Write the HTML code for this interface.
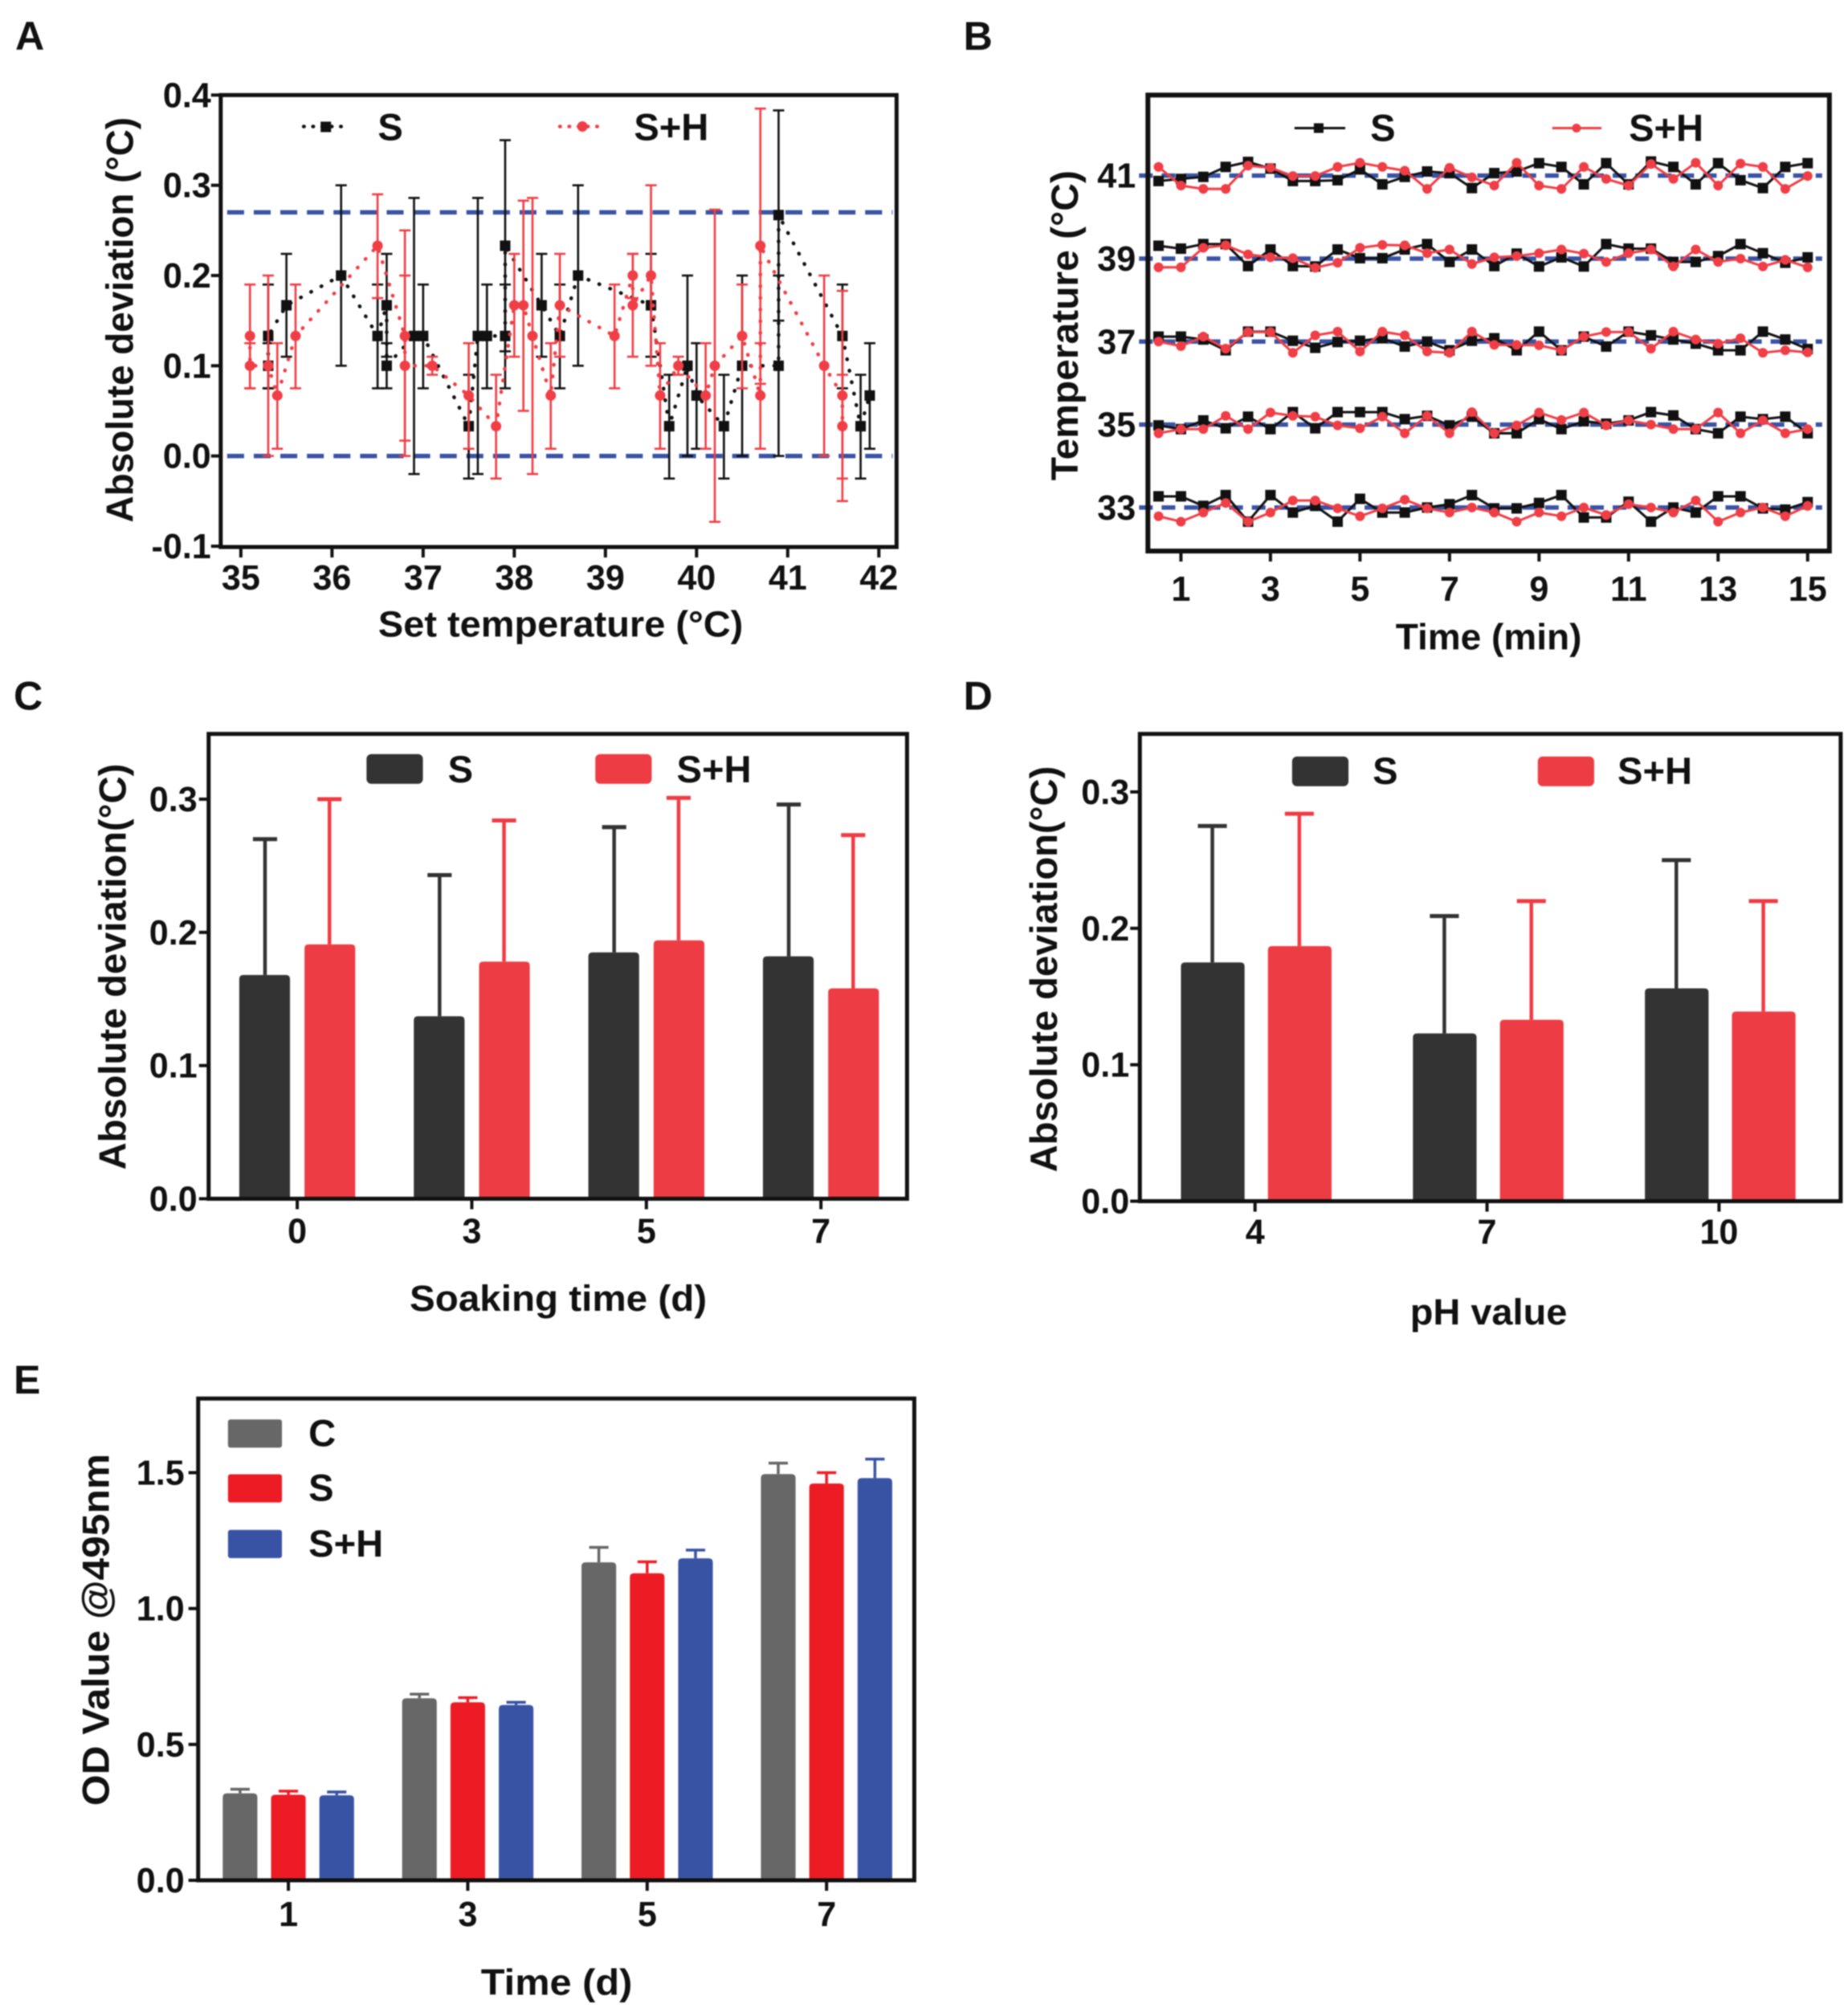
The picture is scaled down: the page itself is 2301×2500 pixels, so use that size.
<!DOCTYPE html>
<html lang="en"><head><meta charset="utf-8"><title>Absolute deviation and OD charts</title>
<style>
html,body{margin:0;padding:0;background:#fff}
svg{display:block;filter:blur(0.7px)}
text{font-family:"Liberation Sans",sans-serif;font-weight:700;fill:#111}
</style></head><body>
<svg id="fig" xmlns="http://www.w3.org/2000/svg" width="2301" height="2500" viewBox="0 0 2294.1 2492.5">
<text x="19" y="62" font-size="50">A</text>
<text x="1196" y="62" font-size="50">B</text>
<text x="17" y="881" font-size="50">C</text>
<text x="1196" y="881" font-size="50">D</text>
<text x="17" y="1730" font-size="50">E</text>

<text transform="translate(165 397) rotate(-90)" text-anchor="middle" font-size="47" textLength="503" lengthAdjust="spacingAndGlyphs">Absolute deviation (°C)</text>
<text x="696" y="790" text-anchor="middle" font-size="45" textLength="453" lengthAdjust="spacingAndGlyphs">Set temperature (°C)</text>
<text x="469" y="174" font-size="47">S</text>
<text x="787" y="174" font-size="47">S+H</text>

<text transform="translate(1338 404) rotate(-90)" text-anchor="middle" font-size="47" textLength="385" lengthAdjust="spacingAndGlyphs">Temperature (°C)</text>
<text x="1848" y="806" text-anchor="middle" font-size="45" textLength="231" lengthAdjust="spacingAndGlyphs">Time (min)</text>
<text x="1701" y="175" font-size="47">S</text>
<text x="2022" y="175" font-size="47">S+H</text>

<text transform="translate(156 1200) rotate(-90)" text-anchor="middle" font-size="47" textLength="504" lengthAdjust="spacingAndGlyphs">Absolute deviation(°C)</text>
<text x="693" y="1627" text-anchor="middle" font-size="45" textLength="369" lengthAdjust="spacingAndGlyphs">Soaking time (d)</text>
<rect x="455" y="936" width="70" height="37" rx="6" fill="#333"/>
<rect x="739" y="936" width="70" height="37" rx="6" fill="#ee3c44"/>
<text x="556" y="971" font-size="47">S</text>
<text x="840" y="971" font-size="47">S+H</text>

<text transform="translate(1312 1203) rotate(-90)" text-anchor="middle" font-size="47" textLength="504" lengthAdjust="spacingAndGlyphs">Absolute deviation(°C)</text>
<text x="1848" y="1644" text-anchor="middle" font-size="45" textLength="195" lengthAdjust="spacingAndGlyphs">pH value</text>
<rect x="1604" y="939" width="70" height="37" rx="6" fill="#333"/>
<rect x="1909" y="939" width="70" height="37" rx="6" fill="#ee3c44"/>
<text x="1704" y="973" font-size="47">S</text>
<text x="2008" y="973" font-size="47">S+H</text>

<text transform="translate(135 2023) rotate(-90)" text-anchor="middle" font-size="47" textLength="437" lengthAdjust="spacingAndGlyphs">OD Value @495nm</text>
<text x="691" y="2476" text-anchor="middle" font-size="45" textLength="188" lengthAdjust="spacingAndGlyphs">Time (d)</text>
<rect x="283" y="1762" width="67" height="35" rx="3" fill="#666766"/>
<rect x="283" y="1830" width="67" height="35" rx="3" fill="#ed1c24"/>
<rect x="283" y="1899" width="67" height="35" rx="3" fill="#3953a4"/>
<text x="383" y="1795" font-size="47">C</text>
<text x="383" y="1863" font-size="47">S</text>
<text x="383" y="1932" font-size="47">S+H</text>
</svg>
<script>
/* ---------- Panel A data ---------- */
const aTicksX = [35,36,37,38,39,40,41,42];
const aTicksY = [-0.1,0,0.1,0.2,0.3,0.4];
const aRefLines = [0.27,0];
const aTempS = [35.3,35.3,35.5,36.1,36.5,36.6,36.6,36.9,37,37.5,37.6,37.7,37.9,37.9,38.3,38.5,38.7,39.5,39.7,39.9,40,40.3,40.5,40.9,40.9,41.6,41.8,41.9];
const aValS  = [0.1,0.133,0.167,0.2,0.133,0.167,0.1,0.133,0.133,0.033,0.133,0.133,0.133,0.233,0.167,0.133,0.2,0.167,0.033,0.1,0.067,0.033,0.1,0.1,0.267,0.133,0.033,0.067];
const aLowS  = [0.075,0.075,0.11,0.1,0.075,0.11,0.075,-0.02,0.075,-0.025,-0.02,0.075,0.075,0.116,0.11,0.075,0.1,0.11,-0.025,0,0.008,-0.025,0,0,0.15,0.075,-0.025,0.008];
const aHighS = [0.125,0.19,0.224,0.3,0.19,0.224,0.125,0.286,0.19,0.09,0.286,0.19,0.19,0.35,0.224,0.19,0.3,0.224,0.09,0.2,0.125,0.09,0.2,0.2,0.383,0.19,0.09,0.125];
const aTempH = [35.1,35.1,35.3,35.4,35.6,36.5,36.8,36.8,37.1,37.5,37.8,38,38.1,38.2,38.4,38.5,39.1,39.3,39.3,39.5,39.6,39.8,40.1,40.2,40.5,40.7,40.7,41.4,41.6,41.6];
const aValH  = [0.133,0.1,0.1,0.067,0.133,0.233,0.133,0.1,0.1,0.067,0.033,0.167,0.167,0.133,0.067,0.167,0.133,0.2,0.167,0.2,0.067,0.1,0.067,0.1,0.133,0.067,0.233,0.1,0.067,0.033];
const aLowH  = [0.075,0.075,0,0.008,0.075,0.175,0.017,0,0.09,0.008,-0.025,0.11,0.05,-0.02,0.008,0.11,0.075,0.175,0.11,0.1,0.008,0.09,0.008,-0.073,0.075,0.008,0.08,0,-0.05,-0.025];
const aHighH = [0.19,0.125,0.2,0.125,0.19,0.29,0.25,0.2,0.11,0.125,0.09,0.224,0.283,0.286,0.125,0.224,0.19,0.224,0.224,0.3,0.125,0.11,0.125,0.273,0.19,0.125,0.385,0.2,0.183,0.09];

/* ---------- Panel B data ---------- */
const bTime = [0.5,1,1.5,2,2.5,3,3.5,4,4.5,5,5.5,6,6.5,7,7.5,8,8.5,9,9.5,10,10.5,11,11.5,12,12.5,13,13.5,14,14.5,15];
const bTicksX = [1,3,5,7,9,11,13,15];
const bTicksY = [33,35,37,39,41];
const bS41 = [40.87,40.92,40.97,41.21,41.33,41.17,40.87,40.87,40.89,41.15,40.79,40.97,41.1,41.06,40.7,41.06,41.1,41.3,41.21,40.79,41.3,40.79,41.34,41.21,40.79,41.3,40.89,40.7,41.21,41.3];
const bH41 = [41.21,40.76,40.68,40.68,41.24,41.19,40.99,40.99,41.21,41.31,41.21,41.12,40.68,41.19,40.96,40.76,41.31,40.76,40.68,41.21,40.92,40.76,41.28,40.92,41.31,40.76,41.29,41.21,40.68,40.99];
const bS39 = [39.31,39.24,39.35,39.35,38.82,39.22,38.82,38.81,39.22,39.01,39.01,39.22,39.35,38.92,39.22,38.82,39.12,38.81,39.03,38.81,39.35,39.24,39.24,38.92,38.92,39.06,39.35,39.13,38.9,39.03];
const bH39 = [38.79,38.79,39.26,39.32,39.1,39.03,39.01,38.78,38.9,39.26,39.33,39.32,39.13,39.22,38.87,39.03,39.06,39.13,39.22,39.12,38.92,39.13,39.22,38.81,39.22,38.92,39,38.81,38.97,38.79];
const bS37 = [37.12,37.12,37.05,36.79,37.24,37.24,37.02,36.85,36.99,37.02,37.08,36.88,37,36.79,37.02,37.08,36.79,37.24,36.79,37.12,36.88,37.24,37.15,37.05,36.95,36.79,36.79,37.24,37.05,36.82];
const bH37 = [37,36.89,37.12,36.83,37.23,37.23,36.73,37.15,37.24,36.76,37.24,37.15,36.76,36.73,37.24,36.92,36.92,36.91,36.79,37.12,37.23,37.23,36.83,37.24,37.05,36.95,37.08,36.73,36.79,36.74];
const bS35 = [34.98,34.89,35.1,34.91,35.19,34.89,35.3,34.91,35.3,35.3,35.3,35.13,35.21,34.98,35.19,34.79,34.79,35.13,34.89,35.08,35.02,35.1,35.3,35.22,34.89,34.79,35.19,35.13,35.19,34.79];
const bH35 = [34.79,34.89,34.89,35.21,34.89,35.29,35.21,35.19,34.98,34.91,35.19,34.79,35.21,34.79,35.3,34.79,34.98,35.29,35.11,35.29,34.98,35.1,35,34.89,34.89,35.29,34.79,35.1,34.79,34.89];
const bS33 = [33.27,33.27,33.04,33.3,32.66,33.3,32.88,33.04,32.66,33.21,32.88,32.88,33,33.08,33.3,32.98,32.98,33.11,33.3,32.76,32.76,33.14,32.66,33,32.88,33.27,33.27,32.98,32.95,33.13];
const bH33 = [32.79,32.66,32.88,33.11,32.66,32.88,33.17,33.17,32.98,32.79,32.98,33.19,32.98,32.88,33,32.88,32.66,32.88,32.79,33,32.82,33.08,33,32.88,33.17,32.66,32.88,33,32.79,33.04];

/* ---------- Panel C data ---------- */
const cCats = ['0','3','5','7'];
const cTicksY = [0,0.1,0.2,0.3];
const cValS = [0.168,0.137,0.185,0.182];
const cErrS = [0.27,0.243,0.279,0.296];
const cValH = [0.191,0.178,0.194,0.158];
const cErrH = [0.3,0.284,0.301,0.273];

/* ---------- Panel D data ---------- */
const dCats = ['4','7','10'];
const dTicksY = [0,0.1,0.2,0.3];
const dValS = [0.175,0.123,0.156];
const dErrS = [0.275,0.209,0.25];
const dValH = [0.187,0.133,0.139];
const dErrH = [0.284,0.22,0.22];

/* ---------- Panel E data ---------- */
const eCats = ['1','3','5','7'];
const eTicksY = ['0.0','0.5','1.0','1.5'];
const eValC = [0.32,0.67,1.17,1.495];
const eErrC = [0.335,0.685,1.225,1.535];
const eValS = [0.315,0.655,1.13,1.46];
const eErrS = [0.328,0.672,1.172,1.5];
const eValH = [0.313,0.645,1.185,1.48];
const eErrH = [0.325,0.655,1.215,1.55];

const svg = document.getElementById('fig');
const NS = 'http://www.w3.org/2000/svg';
const BLACK = '#111', RED = '#ef3e46', BLUE = '#3a53a4', DARK = '#333', BARRED = '#ee3c44';

function mk(tag, attrs, name) {
  const node = document.createElementNS(NS, tag);
  for (const k in attrs) node.setAttribute(k, attrs[k]);
  
  
  svg.appendChild(node);
  return node;
}
const linear = (d0, d1, r0, r1) => v => r0 + (v - d0) * (r1 - r0) / (d1 - d0);

function frame(p, x0, y0, x1, y1, sw) {
  mk('rect', {x:x0, y:y0, width:x1-x0, height:y1-y0, fill:'none', stroke:'#111', 'stroke-width':sw}, p+'-plot-frame');
}
function tickLabel(x, y, str, anchor, name) {
  const t = mk('text', {x:x, y:y, 'text-anchor':anchor, 'font-size':43}, name);
  t.textContent = str;
}
function xTick(p, x, yb, str, by) {
  mk('line', {x1:x, x2:x, y1:yb, y2:yb+13, stroke:'#111', 'stroke-width':4}, p+'-x-tick');
  tickLabel(x, by, str, 'middle', p+'-x-tick-label');
}
function yTick(p, y, xl, str, ax) {
  mk('line', {x1:xl-12, x2:xl, y1:y, y2:y, stroke:'#111', 'stroke-width':4}, p+'-y-tick');
  tickLabel(ax, y+15, str, 'end', p+'-y-tick-label');
}
function errBar(p, x, yA, yB, color, sw, capW, capSw) {
  mk('line', {x1:x, x2:x, y1:yA, y2:yB, stroke:color, 'stroke-width':sw}, p+'-error-bar');
  mk('line', {x1:x-capW/2, x2:x+capW/2, y1:yB, y2:yB, stroke:color, 'stroke-width':capSw}, p+'-error-cap');
}
function bar(p, x, w, yTop, yBase, color, name) {
  const r = 5;
  mk('path', {d:'M'+x+' '+yBase+'V'+(yTop+r)+'Q'+x+' '+yTop+' '+(x+r)+' '+yTop+'H'+(x+w-r)+'Q'+(x+w)+' '+yTop+' '+(x+w)+' '+(yTop+r)+'V'+yBase+'Z', fill:color}, name);
}

/* ---------- Panel A ---------- */
(function(){
  const x = linear(35, 42, 299, 1091), y = linear(0, 0.4, 566, 118);
  aRefLines.forEach(v => {
    mk('line', {x1:282, x2:1108, y1:y(v), y2:y(v), stroke:BLUE, 'stroke-width':5.5, 'stroke-dasharray':'21 12'}, 'a-reference-line');
  });
  function series(xs, vs, lo, hi, color, key) {
    xs.forEach((t, i) => {
      mk('line', {x1:x(t), x2:x(t), y1:y(lo[i]), y2:y(hi[i]), stroke:color, 'stroke-width':2.6}, 'a-'+key+'-error-bar');
      [lo[i], hi[i]].forEach(e => {
        mk('line', {x1:x(t)-7, x2:x(t)+7, y1:y(e), y2:y(e), stroke:color, 'stroke-width':2.6}, 'a-'+key+'-error-cap');
      });
    });
    mk('polyline', {points:xs.map((t, i) => x(t)+','+y(vs[i])).join(' '), fill:'none', stroke:color, 'stroke-width':4.5, 'stroke-linecap':'round', 'stroke-dasharray':'0.5 14'}, 'a-'+key+'-line');
    xs.forEach((t, i) => {
      if (key === 's') mk('rect', {x:x(t)-6.5, y:y(vs[i])-6.5, width:13, height:13, fill:color}, 'a-s-point');
      else mk('circle', {cx:x(t), cy:y(vs[i]), r:6.5, fill:color}, 'a-sh-point');
    });
  }
  series(aTempS, aValS, aLowS, aHighS, BLACK, 's');
  series(aTempH, aValH, aLowH, aHighH, RED, 'sh');
  frame('a', 274, 118, 1113, 679, 5);
  aTicksX.forEach(v => xTick('a', x(v), 679, String(v), 732));
  aTicksY.forEach(v => yTick('a', y(v), 274, v.toFixed(1), 262));
  mk('line', {x1:377, x2:432, y1:157, y2:157, stroke:BLACK, 'stroke-width':4.5, 'stroke-linecap':'round', 'stroke-dasharray':'0.5 11'}, 'a-legend-s-line');
  mk('rect', {x:398, y:151, width:13, height:13, fill:BLACK}, 'a-legend-s-marker');
  mk('line', {x1:695, x2:750, y1:157, y2:157, stroke:RED, 'stroke-width':4.5, 'stroke-linecap':'round', 'stroke-dasharray':'0.5 11'}, 'a-legend-sh-line');
  mk('circle', {cx:723, cy:157, r:6.5, fill:RED}, 'a-legend-sh-marker');
})();

/* ---------- Panel B ---------- */
(function(){
  const x = linear(1, 15, 1466, 2244), y = linear(33, 41, 630, 218);
  const blocks = [[bS33,bH33],[bS35,bH35],[bS37,bH37],[bS39,bH39],[bS41,bH41]];
  bTicksY.forEach(v => {
    mk('line', {x1:1414, x2:2262, y1:y(v), y2:y(v), stroke:BLUE, 'stroke-width':5.5, 'stroke-dasharray':'17 11'}, 'b-setpoint-line');
  });
  function series(vs, color, key) {
    mk('polyline', {points:bTime.map((t, i) => x(t)+','+y(vs[i])).join(' '), fill:'none', stroke:color, 'stroke-width':3}, 'b-'+key+'-line');
    bTime.forEach((t, i) => {
      if (key === 's') mk('rect', {x:x(t)-6.5, y:y(vs[i])-6.5, width:13, height:13, fill:color}, 'b-s-point');
      else mk('circle', {cx:x(t), cy:y(vs[i]), r:6, fill:color}, 'b-sh-point');
    });
  }
  blocks.forEach(b => series(b[0], BLACK, 's'));
  blocks.forEach(b => series(b[1], RED, 'sh'));
  frame('b', 1425, 118, 2271, 684, 6);
  bTicksX.forEach(v => xTick('b', x(v), 684, String(v), 746));
  bTicksY.forEach(v => tickLabel(1410, y(v)+15, String(v), 'end', 'b-y-tick-label'));
  mk('line', {x1:1607, x2:1670, y1:159, y2:159, stroke:BLACK, 'stroke-width':3}, 'b-legend-s-line');
  mk('rect', {x:1631, y:153, width:12, height:12, fill:BLACK}, 'b-legend-s-marker');
  mk('line', {x1:1927, x2:1988, y1:159, y2:159, stroke:RED, 'stroke-width':3}, 'b-legend-sh-line');
  mk('circle', {cx:1957, cy:159, r:5.5, fill:RED}, 'b-legend-sh-marker');
})();

/* ---------- Panel C ---------- */
(function(){
  const y = linear(0, 0.3, 1488, 992);
  const band = i => 369 + i * 216.7;
  cCats.forEach((c, i) => {
    const cx = band(i);
    errBar('c', cx-40, y(cValS[i]), y(cErrS[i]), DARK, 4.5, 30, 5);
    bar('c', cx-72, 63, y(cValS[i]), 1488, DARK, 'c-bar-s');
    errBar('c', cx+40, y(cValH[i]), y(cErrH[i]), BARRED, 4.5, 30, 5);
    bar('c', cx+9, 63, y(cValH[i]), 1488, BARRED, 'c-bar-sh');
    xTick('c', cx, 1488, c, 1543);
  });
  frame('c', 259, 911, 1126, 1488, 5);
  cTicksY.forEach(v => yTick('c', y(v), 259, v.toFixed(1), 245));
})();

/* ---------- Panel D ---------- */
(function(){
  const y = linear(0, 0.3, 1491, 983);
  const band = i => 1558 + i * 288;
  dCats.forEach((c, i) => {
    const cx = band(i);
    errBar('d', cx-53, y(dValS[i]), y(dErrS[i]), DARK, 4.5, 36, 5);
    bar('d', cx-92, 79, y(dValS[i]), 1491, DARK, 'd-bar-s');
    errBar('d', cx+55, y(dValH[i]), y(dErrH[i]), BARRED, 4.5, 36, 5);
    bar('d', cx+16, 79, y(dValH[i]), 1491, BARRED, 'd-bar-sh');
    xTick('d', cx, 1491, c, 1544);
  });
  frame('d', 1415, 911, 2285, 1491, 5);
  dTicksY.forEach(v => yTick('d', y(v), 1415, v.toFixed(1), 1402));
})();

/* ---------- Panel E ---------- */
(function(){
  const y = linear(0, 1.5, 2334, 1828);
  const band = i => 358 + i * 222.7;
  const sets = [[eValC,eErrC,'#666766','c'],[eValS,eErrS,'#ed1c24','s'],[eValH,eErrH,'#3953a4','sh']];
  eCats.forEach((c, i) => {
    const cx = band(i);
    sets.forEach((s, j) => {
      const bx = cx + (j-1) * 60;
      errBar('e', bx, y(s[0][i]), y(s[1][i]), s[2], 3.5, 24, 3.5);
      bar('e', bx-21.5, 43, y(s[0][i]), 2334, s[2], 'e-bar-'+s[3]);
    });
    xTick('e', cx, 2334, c, 2391);
  });
  frame('e', 246, 1736, 1135, 2334, 5);
  eTicksY.forEach(v => yTick('e', y(Number(v)), 246, v, 229));
})();
</script>
</body></html>
